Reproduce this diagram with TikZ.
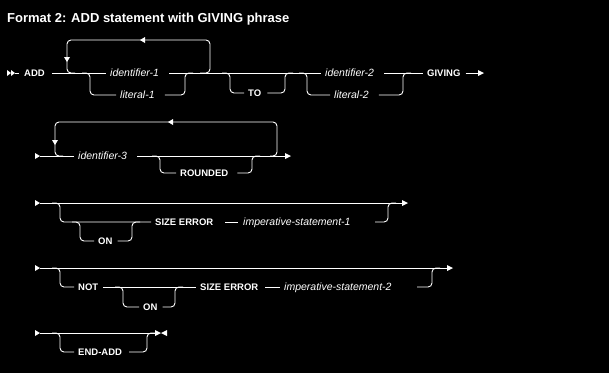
\documentclass[tikz,border=0pt]{standalone}
\usepackage{fontspec}
\setmainfont{Liberation Sans}
\begin{document}
\begin{tikzpicture}[x=1pt,y=-1pt,
  rail/.style={draw=white, line width=0.9pt, rounded corners=4pt},
  tri/.style={fill=white, draw=none},
  kw/.style={text=white, font=\fontsize{9.5}{11}\selectfont\bfseries, inner xsep=0pt, inner ysep=0pt, text height=7pt, text depth=0pt, anchor=west},
  var/.style={text=white, font=\fontsize{10.5}{12}\selectfont\itshape, inner xsep=0pt, inner ysep=0pt, text height=7pt, text depth=0pt, anchor=west}]
\fill[black] (0,0) rectangle (609,373);
\useasboundingbox (0,0) rectangle (609,373);
% title
\node[text=white, font=\fontsize{13}{15}\selectfont\bfseries, anchor=base west, inner sep=0pt] (title) at (7,22) {Format 2: ADD statement with GIVING phrase};

% ---------- row 1 ----------
\node[kw] (add) at (24,73) {ADD};
\node[var] (id1) at (110,73) {identifier-1};
\node[var] (lit1) at (120,95) {literal-1};
\node[kw] (to) at (248,93) {TO};
\node[var] (id2) at (325,73) {identifier-2};
\node[var] (lit2) at (334,95) {literal-2};
\node[kw] (giving) at (427,73) {GIVING};
\coordinate (s1) at (15,73);
\coordinate (e1) at (478,73);
\fill[tri] (7,70) -- (11,73) -- (7,76) -- cycle;
\fill[tri] (11,70) -- (15,73) -- (11,76) -- cycle;
\draw[rail] (s1) -- ++(4,0);
\draw[rail] ([xshift=7pt]add.east) -- ([xshift=-4pt]id1.west);
\draw[rail] ([xshift=10pt]id1.east) -- ([xshift=-4pt]id2.west);
\draw[rail] ([xshift=10pt]id2.east) -- ([xshift=-4pt]giving.west);
\draw[rail] ([xshift=5pt]giving.east) -- (e1);
\fill[tri] (e1) ++(0,-3) -- ++(6,3) -- ++(-6,3) -- cycle;
% repeat loop
\coordinate (l1a) at (200,73);
\coordinate (l1r) at (210,40);
\coordinate (l1l) at (67,73);
\draw[rail] (l1a) -| (l1r) -| (l1l) -- ++(8,0);
\fill[tri] (64,57) -- (70,57) -- (67,62) -- cycle;
\fill[tri] (145,37) -- (145,43) -- (140,40) -- cycle;
% literal-1
\coordinate (b1a) at (82,73);
\coordinate (b1l) at (90,95);
\coordinate (b1r) at (185,73);
\draw[rail] (b1a) -| (b1l) -- ([xshift=-4pt]lit1.west);
\draw[rail] ([xshift=10pt]lit1.east) -| (b1r) -- ++(8,0);
% TO
\coordinate (b2a) at (222,73);
\coordinate (b2l) at (230,93);
\coordinate (b2r) at (285,73);
\draw[rail] (b2a) -| (b2l) -- ([xshift=-4pt]to.west);
\draw[rail] ([xshift=6pt]to.east) -| (b2r) -- ++(8,0);
% literal-2
\coordinate (b3a) at (299,73);
\coordinate (b3l) at (307,95);
\coordinate (b3r) at (403,73);
\draw[rail] (b3a) -| (b3l) -- ([xshift=-4pt]lit2.west);
\draw[rail] ([xshift=10pt]lit2.east) -| (b3r) -- ++(8,0);

% ---------- row 2 ----------
\node[var] (id3) at (78,156) {identifier-3};
\node[kw] (rounded) at (180,173) {ROUNDED};
\coordinate (s2) at (40,156);
\coordinate (e2) at (285,156);
\fill[tri] (35,153) -- (40,156) -- (35,159) -- cycle;
\draw[rail] (s2) -- ([xshift=-4pt]id3.west);
\draw[rail] ([xshift=10pt]id3.east) -- (e2);
\fill[tri] (e2) ++(0,-3) -- ++(6,3) -- ++(-6,3) -- cycle;
\coordinate (l2a) at (270,156);
\coordinate (l2r) at (277,122);
\coordinate (l2l) at (55,156);
\draw[rail] (l2a) -| (l2r) -| (l2l) -- ++(8,0);
\fill[tri] (52,140) -- (58,140) -- (55,145) -- cycle;
\fill[tri] (173,119) -- (173,125) -- (168,122) -- cycle;
\coordinate (b4a) at (152,156);
\coordinate (b4l) at (160,173);
\coordinate (b4r) at (252,156);
\draw[rail] (b4a) -| (b4l) -- ([xshift=-4pt]rounded.west);
\draw[rail] ([xshift=9pt]rounded.east) -| (b4r) -- ++(8,0);

% ---------- row 3 ----------
\node[kw] (on1) at (98,241) {ON};
\node[kw] (size1) at (155,222) {SIZE ERROR};
\node[var] (imp1) at (243,222) {imperative-statement-1};
\coordinate (s3) at (40,203);
\coordinate (e3) at (402,203);
\fill[tri] (35,200) -- (40,203) -- (35,206) -- cycle;
\draw[rail] (s3) -- (e3);
\fill[tri] (e3) ++(0,-3) -- ++(6,3) -- ++(-6,3) -- cycle;
\coordinate (b5a) at (52,203);
\coordinate (b5l) at (60,222);
\draw[rail] (b5a) -| (b5l) -- ([xshift=-4pt]size1.west);
\coordinate (b6a) at (72,222);
\coordinate (b6l) at (80,241);
\coordinate (b6r) at (132,222);
\draw[rail] (b6a) -| (b6l) -- ([xshift=-4pt]on1.west);
\draw[rail] ([xshift=5pt]on1.east) -| (b6r) -- ++(8,0);
\draw[rail] ([xshift=12pt]size1.east) -- ([xshift=-5pt]imp1.west);
\coordinate (i1r) at (375,222);
\coordinate (b5r) at (388,203);
\draw[rail] (i1r) -| (b5r) -- ++(8,0);

% ---------- row 4 ----------
\node[kw] (not) at (78,287) {NOT};
\node[kw] (on2) at (143,307) {ON};
\node[kw] (size2) at (200,287) {SIZE ERROR};
\node[var] (imp2) at (284,287) {imperative-statement-2};
\coordinate (s4) at (40,268);
\coordinate (e4) at (447,268);
\fill[tri] (35,265) -- (40,268) -- (35,271) -- cycle;
\draw[rail] (s4) -- (e4);
\fill[tri] (e4) ++(0,-3) -- ++(6,3) -- ++(-6,3) -- cycle;
\coordinate (b7a) at (52,268);
\coordinate (b7l) at (60,287);
\draw[rail] (b7a) -| (b7l) -- ([xshift=-4pt]not.west);
\draw[rail] ([xshift=5pt]not.east) -- ([xshift=-4pt]size2.west);
\coordinate (b8a) at (115,287);
\coordinate (b8l) at (123,307);
\coordinate (b8r) at (175,287);
\draw[rail] (b8a) -| (b8l) -- ([xshift=-4pt]on2.west);
\draw[rail] ([xshift=5pt]on2.east) -| (b8r) -- ++(8,0);
\draw[rail] ([xshift=7pt]size2.east) -- ([xshift=-4pt]imp2.west);
\coordinate (i2r) at (417,287);
\coordinate (b7r) at (432,268);
\draw[rail] (i2r) -| (b7r) -- ++(8,0);

% ---------- row 5 ----------
\node[kw] (endadd) at (78,352) {END-ADD};
\coordinate (s5) at (40,333);
\coordinate (e5) at (155,333);
\fill[tri] (35,330) -- (40,333) -- (35,336) -- cycle;
\draw[rail] (s5) -- (e5);
\coordinate (b9a) at (52,333);
\coordinate (b9l) at (60,352);
\coordinate (b9r) at (147,333);
\draw[rail] (b9a) -| (b9l) -- ([xshift=-4pt]endadd.west);
\draw[rail] ([xshift=7pt]endadd.east) -| (b9r) -- ++(8,0);
\fill[tri] (155,330) -- (161,333) -- (155,336) -- cycle;
\fill[tri] (167,330) -- (161,333) -- (167,336) -- cycle;
\end{tikzpicture}
\end{document}
